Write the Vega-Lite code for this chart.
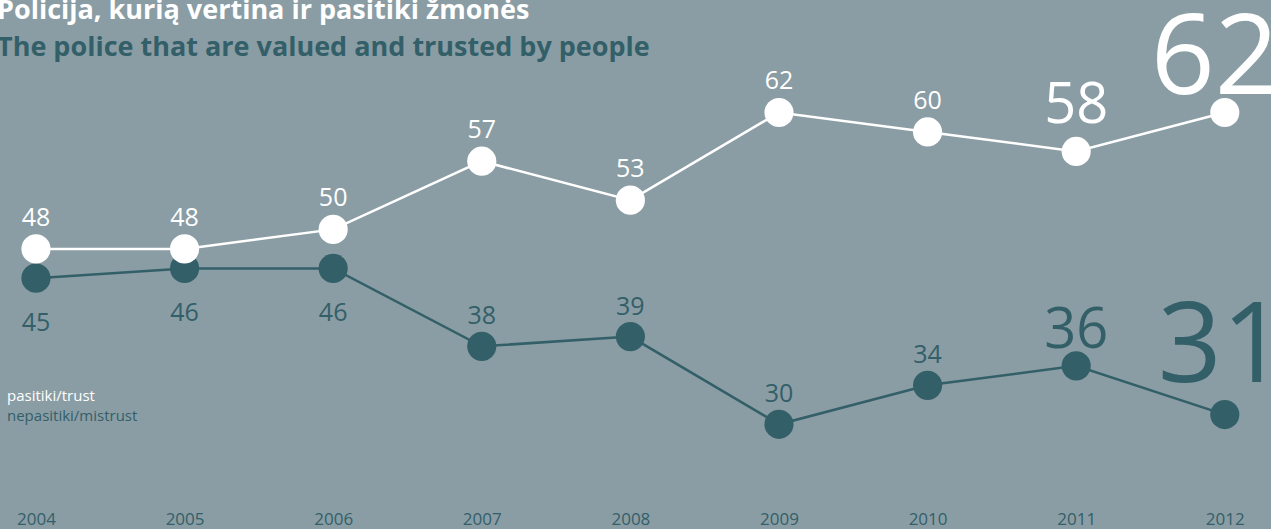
{
  "$schema": "https://vega.github.io/schema/vega-lite/v6.json",
  "width": 1271,
  "height": 505,
  "autosize": {"type": "none"},
  "padding": {"top": 0, "left": 0, "right": 0, "bottom": 24},
  "background": "#8a9da4",
  "config": {
    "view": {"stroke": null},
    "font": "Open Sans"
  },
  "title": {
    "text": "Policija, kurią vertina ir pasitiki žmonės",
    "subtitle": "The police that are valued and trusted by people",
    "anchor": "start",
    "frame": "group",
    "orient": "top",
    "offset": -62,
    "dx": -3,
    "font": "Open Sans",
    "fontSize": 27,
    "fontWeight": "bold",
    "color": "#ffffff",
    "subtitleFont": "Open Sans",
    "subtitleFontSize": 27,
    "subtitleFontWeight": "bold",
    "subtitleColor": "#335f69",
    "subtitlePadding": 10
  },
  "data": {
    "values": [
      {"year": 2004, "series": "nepasitiki/mistrust", "value": 45},
      {"year": 2005, "series": "nepasitiki/mistrust", "value": 46},
      {"year": 2006, "series": "nepasitiki/mistrust", "value": 46},
      {"year": 2007, "series": "nepasitiki/mistrust", "value": 38},
      {"year": 2008, "series": "nepasitiki/mistrust", "value": 39},
      {"year": 2009, "series": "nepasitiki/mistrust", "value": 30},
      {"year": 2010, "series": "nepasitiki/mistrust", "value": 34},
      {"year": 2011, "series": "nepasitiki/mistrust", "value": 36},
      {"year": 2012, "series": "nepasitiki/mistrust", "value": 31},
      {"year": 2004, "series": "pasitiki/trust", "value": 48},
      {"year": 2005, "series": "pasitiki/trust", "value": 48},
      {"year": 2006, "series": "pasitiki/trust", "value": 50},
      {"year": 2007, "series": "pasitiki/trust", "value": 57},
      {"year": 2008, "series": "pasitiki/trust", "value": 53},
      {"year": 2009, "series": "pasitiki/trust", "value": 62},
      {"year": 2010, "series": "pasitiki/trust", "value": 60},
      {"year": 2011, "series": "pasitiki/trust", "value": 58},
      {"year": 2012, "series": "pasitiki/trust", "value": 62}
    ]
  },
  "encoding": {
    "x": {
      "field": "year",
      "type": "quantitative",
      "scale": {"domain": [2003.758, 2012.311], "nice": false, "zero": false},
      "axis": {
        "title": null,
        "values": [2004, 2005, 2006, 2007, 2008, 2009, 2010, 2011, 2012],
        "format": "d",
        "domain": false,
        "ticks": false,
        "grid": false,
        "labelColor": "#335f69",
        "labelFont": "Open Sans",
        "labelFontSize": 17,
        "labelPadding": 6,
        "labelFlush": false,
        "labelOverlap": false
      }
    },
    "y": {
      "field": "value",
      "type": "quantitative",
      "scale": {"domain": [21.72, 73.54], "nice": false, "zero": false},
      "axis": null
    }
  },
  "layer": [
    {
      "transform": [{"filter": "datum.series === 'nepasitiki/mistrust'"}],
      "mark": {"type": "line", "strokeWidth": 2.5},
      "encoding": {
        "color": {
          "field": "series",
          "type": "nominal",
          "scale": {"domain": ["pasitiki/trust", "nepasitiki/mistrust"], "range": ["#ffffff", "#335f69"]},
          "legend": {
            "title": null,
            "orient": "none",
            "legendX": -8,
            "legendY": 388,
            "symbolSize": 0,
            "symbolStrokeWidth": 0,
            "symbolOpacity": 0,
            "labelOffset": 0,
            "labelFont": "Open Sans",
            "labelFontSize": 15,
            "rowPadding": 4,
            "padding": 0,
            "encode": {
              "labels": {
                "update": {
                  "fill": {"signal": "datum.value === 'pasitiki/trust' ? '#ffffff' : '#335f69'"}
                }
              }
            }
          }
        }
      }
    },
    {
      "transform": [{"filter": "datum.series === 'nepasitiki/mistrust'"}],
      "mark": {"type": "circle", "size": 850, "opacity": 1},
      "encoding": {"color": {"field": "series", "type": "nominal"}}
    },
    {
      "transform": [{"filter": "datum.series === 'pasitiki/trust'"}],
      "mark": {"type": "line", "strokeWidth": 2.5},
      "encoding": {"color": {"field": "series", "type": "nominal"}}
    },
    {
      "transform": [{"filter": "datum.series === 'pasitiki/trust'"}],
      "mark": {"type": "circle", "size": 850, "opacity": 1},
      "encoding": {"color": {"field": "series", "type": "nominal"}}
    },
    {
      "transform": [{"filter": "datum.series === 'pasitiki/trust' && datum.year <= 2010"}],
      "mark": {"type": "text", "fontSize": 25, "dy": -23, "baseline": "alphabetic", "align": "center", "color": "#ffffff", "font": "Open Sans"},
      "encoding": {"text": {"field": "value", "type": "quantitative"}}
    },
    {
      "transform": [{"filter": "datum.series === 'pasitiki/trust' && datum.year === 2011"}],
      "mark": {"type": "text", "fontSize": 56, "dy": -28, "baseline": "alphabetic", "align": "center", "color": "#ffffff", "font": "Open Sans"},
      "encoding": {"text": {"field": "value", "type": "quantitative"}}
    },
    {
      "transform": [{"filter": "datum.series === 'pasitiki/trust' && datum.year === 2012"}],
      "mark": {"type": "text", "fontSize": 112, "dx": -10, "dy": -18, "baseline": "alphabetic", "align": "center", "color": "#ffffff", "font": "Open Sans"},
      "encoding": {"text": {"field": "value", "type": "quantitative"}}
    },
    {
      "transform": [{"filter": "datum.series === 'nepasitiki/mistrust' && datum.year <= 2006"}],
      "mark": {"type": "text", "fontSize": 25, "dy": 53, "baseline": "alphabetic", "align": "center", "color": "#335f69", "font": "Open Sans"},
      "encoding": {"text": {"field": "value", "type": "quantitative"}}
    },
    {
      "transform": [{"filter": "datum.series === 'nepasitiki/mistrust' && datum.year >= 2007 && datum.year <= 2010"}],
      "mark": {"type": "text", "fontSize": 25, "dy": -22, "baseline": "alphabetic", "align": "center", "color": "#335f69", "font": "Open Sans"},
      "encoding": {"text": {"field": "value", "type": "quantitative"}}
    },
    {
      "transform": [{"filter": "datum.series === 'nepasitiki/mistrust' && datum.year === 2011"}],
      "mark": {"type": "text", "fontSize": 56, "dy": -18, "baseline": "alphabetic", "align": "center", "color": "#335f69", "font": "Open Sans"},
      "encoding": {"text": {"field": "value", "type": "quantitative"}}
    },
    {
      "transform": [{"filter": "datum.series === 'nepasitiki/mistrust' && datum.year === 2012"}],
      "mark": {"type": "text", "fontSize": 112, "dx": -3, "dy": -33, "baseline": "alphabetic", "align": "center", "color": "#335f69", "font": "Open Sans"},
      "encoding": {"text": {"field": "value", "type": "quantitative"}}
    }
  ]
}
